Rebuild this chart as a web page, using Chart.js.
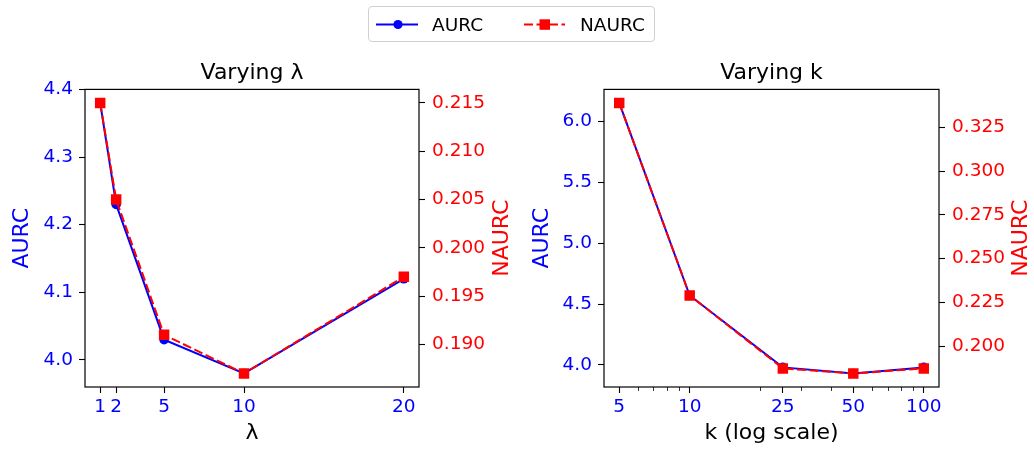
<!DOCTYPE html>
<html>
<head>
<meta charset="utf-8">
<script src="https://cdn.jsdelivr.net/npm/chart.js@4"></script>
<style>
  body { margin: 0; background: #fff; }
  #wrap { position: relative; width: 1034px; height: 449px; font-family: "DejaVu Sans", sans-serif; }
  canvas { position: absolute; top: 0; }
  #cLambda { left: 0; }
  #cK { left: 517px; }
  #legend { position: absolute; left: 368px; top: 6px; width: 285px; height: 34px;
            border: 1px solid #d0d0d0; border-radius: 4px; background: #fff; }
  #legend span { position: absolute; top: 0; line-height: 35px; font-size: 18.5px; color: #000; }
  #legend svg { position: absolute; left: 0; top: 0; }
</style>
</head>
<body>
<div id="wrap">
  <canvas id="cLambda" width="517" height="449"></canvas>
  <canvas id="cK" width="517" height="449"></canvas>
  <div id="legend">
    <svg width="285" height="34">
      <line x1="7" y1="17.5" x2="49" y2="17.5" stroke="#0000ff" stroke-width="2"/>
      <circle cx="29" cy="17.5" r="4.6" fill="#0000ff"/>
      <line x1="155" y1="17.5" x2="196" y2="17.5" stroke="#ff0000" stroke-width="2" stroke-dasharray="9 3.5"/>
      <rect x="170.5" y="12.3" width="10.5" height="10.5" fill="#ff0000"/>
    </svg>
    <span style="left:63px">AURC</span>
    <span style="left:211px">NAURC</span>
  </div>
</div>
<script>
// data
const lambdas = [1, 2, 5, 10, 20];
const aurcLambda = [4.38, 4.23, 4.03, 3.98, 4.12];
const naurcLambda = [0.215, 0.205, 0.191, 0.187, 0.197];

const ks = [5, 10, 25, 50, 100];
const aurcK = [6.15, 4.57, 3.98, 3.93, 3.98];
const naurcK = [0.339, 0.229, 0.1873, 0.1844, 0.1873];

// tick labels
const lambdaTicks = [1, 2, 5, 10, 20];
const kTicks = [5, 10, 25, 50, 100];
const kMinorTicks = [6, 7, 8, 9, 20, 30, 40, 60, 70, 80, 90];
const aurcLambdaTicks = [4.0, 4.1, 4.2, 4.3, 4.4];
const naurcLambdaTicks = [0.190, 0.195, 0.200, 0.205, 0.210, 0.215];
const aurcKTicks = [4.0, 4.5, 5.0, 5.5, 6.0];
const naurcKTicks = [0.200, 0.225, 0.250, 0.275, 0.300, 0.325];

const BLUE = '#0000ff';
const RED = '#ff0000';
const FONT = 'DejaVu Sans';

// matplotlib-like 5% margins
function pad(arr) {
  const lo = Math.min(...arr), hi = Math.max(...arr), r = hi - lo;
  return [lo - 0.05 * r, hi + 0.05 * r];
}
function padLog(arr) {
  const l = pad(arr.map(Math.log10));
  return [Math.pow(10, l[0]), Math.pow(10, l[1])];
}
function pts(xs, ys) {
  return xs.map((x, i) => ({ x: x, y: ys[i] }));
}

const tickGrid = { drawOnChartArea: false, tickLength: 6, tickColor: '#000', tickWidth: 1.1 };

function yAxis(position, color, ticks, lim, digits, width, titleText, titlePad) {
  const ax = {
    type: 'linear',
    position: position,
    min: lim[0],
    max: lim[1],
    afterBuildTicks: s => { s.ticks = ticks.map(v => ({ value: v })); },
    afterFit: s => { s.width = width; },
    ticks: { color: color, font: { family: FONT, size: 18.5 }, padding: position == 'left' ? 6 : 7,
             autoSkip: false, callback: v => Number(v).toFixed(digits) },
    grid: tickGrid,
    border: { display: false }
  };
  if (titleText) {
    ax.title = { display: true, text: titleText, color: color,
                 font: { family: FONT, size: 22 }, padding: { top: titlePad, bottom: 0 } };
  }
  return ax;
}

function xAxis(type, ticks, lim, titleText) {
  return {
    type: type,
    position: 'bottom',
    min: lim[0],
    max: lim[1],
    afterBuildTicks: s => { s.ticks = ticks.map(v => ({ value: v })); },
    afterFit: s => { s.height = 62; },
    ticks: { color: BLUE, font: { family: FONT, size: 18.5 }, padding: 3, autoSkip: false,
             maxRotation: 0, callback: v => String(v) },
    grid: tickGrid,
    border: { display: false },
    title: { display: true, text: titleText, color: '#000',
             font: { family: FONT, size: 22 }, padding: { top: 0, bottom: 3 } }
  };
}

// box around the axes, minor log ticks and rotated right-hand label
const frame = {
  id: 'frame',
  afterDraw(chart, args, o) {
    const ctx = chart.ctx, a = chart.chartArea;
    ctx.save();
    if (o.minor) {
      const s = chart.scales.x;
      ctx.strokeStyle = '#000';
      ctx.lineWidth = 0.8;
      o.minor.forEach(v => {
        const px = Math.round(s.getPixelForValue(v)) + 0.5;
        ctx.beginPath();
        ctx.moveTo(px, a.bottom);
        ctx.lineTo(px, a.bottom + 4);
        ctx.stroke();
      });
    }
    ctx.strokeStyle = '#000';
    ctx.lineWidth = 1.2;
    ctx.strokeRect(a.left, a.top, a.right - a.left, a.bottom - a.top);
    ctx.translate(o.labelX, (a.top + a.bottom) / 2);
    ctx.rotate(-Math.PI / 2);
    ctx.fillStyle = RED;
    ctx.font = '22px "' + FONT + '"';
    ctx.textAlign = 'center';
    ctx.textBaseline = 'middle';
    ctx.fillText(o.label, 0, 0);
    ctx.restore();
  }
};

function datasets(xs, aurc, naurc) {
  return [
    { label: 'NAURC', data: pts(xs, naurc), yAxisID: 'y1', borderColor: RED, backgroundColor: RED,
      borderWidth: 2, borderDash: [9, 3.5], pointStyle: 'rect', pointRadius: 7.4,
      pointBorderWidth: 0, pointHoverRadius: 7.4, tension: 0 },
    { label: 'AURC', data: pts(xs, aurc), yAxisID: 'y', borderColor: BLUE, backgroundColor: BLUE,
      borderWidth: 2, pointStyle: 'circle', pointRadius: 4.8, pointBorderWidth: 0,
      pointHoverRadius: 4.8, tension: 0 }
  ];
}

function makeChart(id, title, xs, aurc, naurc, scales, frameOpts) {
  return new Chart(document.getElementById(id), {
    type: 'line',
    data: { datasets: datasets(xs, aurc, naurc) },
    options: {
      responsive: false,
      animation: false,
      layout: { padding: 0 },
      plugins: {
        legend: { display: false },
        tooltip: { enabled: false },
        title: { display: true, text: title, color: '#000', fullSize: false,
                 font: { family: FONT, size: 22, weight: 'normal' }, padding: { top: 60, bottom: 3 } },
        frame: frameOpts
      },
      scales: scales
    },
    plugins: [frame]
  });
}

const chartLambda = makeChart('cLambda', 'Varying λ', lambdas, aurcLambda, naurcLambda, {
  x: xAxis('linear', lambdaTicks, pad(lambdas), 'λ'),
  y: yAxis('left', BLUE, aurcLambdaTicks, pad(aurcLambda), 1, 85, 'AURC', 9.3),
  y1: yAxis('right', RED, naurcLambdaTicks, pad(naurcLambda), 3, 98, null, 0)
}, { label: 'NAURC', labelX: 502.5 });

const chartK = makeChart('cK', 'Varying k', ks, aurcK, naurcK, {
  x: xAxis('logarithmic', kTicks, padLog(ks), 'k (log scale)'),
  y: yAxis('left', BLUE, aurcKTicks, pad(aurcK), 1, 87, 'AURC', 12.3),
  y1: yAxis('right', RED, naurcKTicks, pad(naurcK), 3, 95, null, 0)
}, { label: 'NAURC', labelX: 504.5, minor: kMinorTicks });
</script>
</body>
</html>
